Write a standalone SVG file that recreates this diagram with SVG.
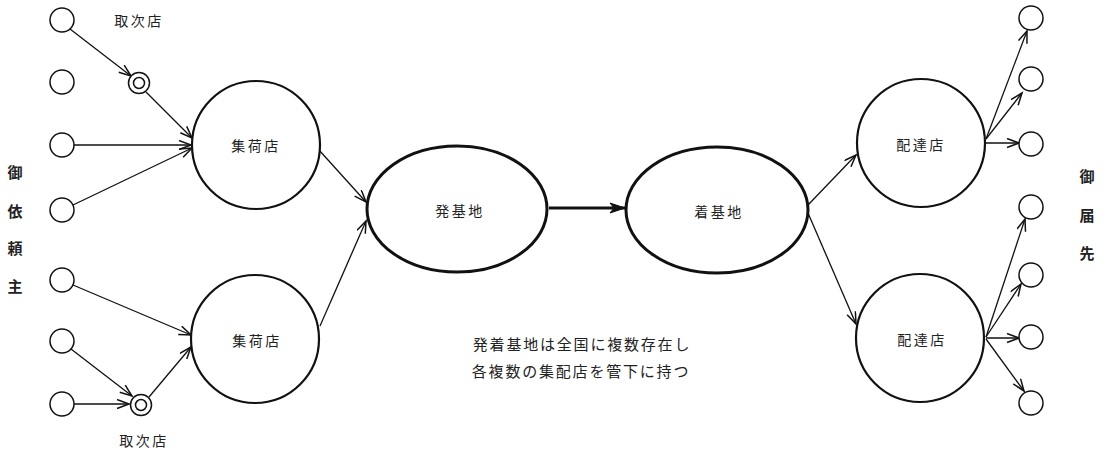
<svg xmlns="http://www.w3.org/2000/svg" width="1109" height="452" viewBox="0 0 1109 452">
<style>
text{font-family:"Noto Sans CJK JP","Noto Sans CJK SC",sans-serif;fill:#222;text-anchor:middle;dominant-baseline:central}
.lbl{font-size:14px;letter-spacing:2.5px}
.note{font-size:15px;letter-spacing:1.8px}
.side{font-size:15px;font-weight:bold}
.sm{fill:#fff;stroke:#111;stroke-width:1.5}
.big{fill:#fff;stroke:#111;stroke-width:2.2}
.base{fill:#fff;stroke:#111;stroke-width:3}
.c{stroke:#111;stroke-width:1.3;fill:none;marker-end:url(#ah)}
</style>
<defs>
<marker id="ah" markerUnits="userSpaceOnUse" markerWidth="16" markerHeight="12" refX="13" refY="5" orient="auto">
<path d="M1,0.5 L13,5 L1,9.5" fill="none" stroke="#111" stroke-width="1.5"/>
</marker>
<marker id="ahb" markerUnits="userSpaceOnUse" markerWidth="18" markerHeight="14" refX="16" refY="6" orient="auto">
<path d="M1,1 L16,6 L1,11 L5,6 Z" fill="#111" stroke="#111" stroke-width="1"/>
</marker>
</defs>
<rect width="1109" height="452" fill="#fff"/>

<g id="connectors">
<line class="c" x1="70" y1="29" x2="131" y2="76"/>
<line class="c" x1="146" y1="92" x2="192" y2="138"/>
<line class="c" x1="74" y1="145" x2="191" y2="145"/>
<line class="c" x1="73" y1="205" x2="192" y2="148"/>
<line class="c" x1="73" y1="285" x2="191" y2="335"/>
<line class="c" x1="71" y1="349" x2="132" y2="396"/>
<line class="c" x1="74" y1="404" x2="129" y2="404"/>
<line class="c" x1="149" y1="397" x2="191" y2="347"/>
<line class="c" x1="319" y1="150" x2="366" y2="202"/>
<line class="c" x1="320" y1="326" x2="366" y2="221"/>
<line x1="549" y1="208" x2="625" y2="208" stroke="#111" stroke-width="3" marker-end="url(#ahb)"/>
<line class="c" x1="808" y1="205" x2="856" y2="155"/>
<line class="c" x1="808" y1="213" x2="856" y2="324"/>
<line class="c" x1="986" y1="139" x2="1027" y2="31"/>
<line class="c" x1="986" y1="139" x2="1022" y2="93"/>
<line class="c" x1="985" y1="143" x2="1019" y2="143"/>
<line class="c" x1="986" y1="337" x2="1025" y2="219"/>
<line class="c" x1="986" y1="337" x2="1021" y2="284"/>
<line class="c" x1="986" y1="338" x2="1019" y2="338"/>
<line class="c" x1="986" y1="339" x2="1024" y2="391"/>
</g>

<g id="senders">
<circle class="sm" cx="62" cy="20" r="12"/>
<circle class="sm" cx="62" cy="82" r="12"/>
<circle class="sm" cx="62" cy="145" r="12"/>
<circle class="sm" cx="62" cy="210" r="12"/>
<circle class="sm" cx="62" cy="280" r="12"/>
<circle class="sm" cx="62" cy="341" r="12"/>
<circle class="sm" cx="62" cy="404" r="12"/>
</g>

<g id="relay-top">
<circle class="sm" cx="139" cy="83" r="10.5"/>
<circle class="sm" cx="139" cy="83" r="5.5"/>
<text class="lbl" x="139" y="20">取次店</text>
</g>
<g id="relay-bottom">
<circle class="sm" cx="141" cy="405" r="10.5"/>
<circle class="sm" cx="141" cy="405" r="5.5"/>
<text class="lbl" x="144" y="440">取次店</text>
</g>

<g id="collect-top">
<circle class="big" cx="256" cy="145" r="64"/>
<text class="lbl" x="256" y="145">集荷店</text>
</g>
<g id="collect-bottom">
<circle class="big" cx="255" cy="339" r="64"/>
<text class="lbl" x="257" y="340">集荷店</text>
</g>

<g id="origin-base">
<ellipse class="base" cx="457" cy="209" rx="90" ry="63"/>
<text class="lbl" x="460" y="210">発基地</text>
</g>
<g id="dest-base">
<ellipse class="base" cx="717" cy="210" rx="91" ry="63"/>
<text class="lbl" x="719" y="211">着基地</text>
</g>

<g id="deliver-top">
<circle class="big" cx="921" cy="143" r="64"/>
<text class="lbl" x="921" y="144">配達店</text>
</g>
<g id="deliver-bottom">
<circle class="big" cx="920" cy="338" r="64"/>
<text class="lbl" x="922" y="339">配達店</text>
</g>

<g id="receivers">
<circle class="sm" cx="1031" cy="18" r="12"/>
<circle class="sm" cx="1031" cy="79" r="12"/>
<circle class="sm" cx="1031" cy="144" r="12"/>
<circle class="sm" cx="1031" cy="207" r="12"/>
<circle class="sm" cx="1031" cy="275" r="12"/>
<circle class="sm" cx="1031" cy="337" r="12"/>
<circle class="sm" cx="1031" cy="403" r="12"/>
</g>

<g id="label-sender">
<text class="side" x="15" y="171">御</text>
<text class="side" x="15" y="210">依</text>
<text class="side" x="15" y="247">頼</text>
<text class="side" x="15" y="285">主</text>
</g>
<g id="label-receiver">
<text class="side" x="1087" y="175">御</text>
<text class="side" x="1087" y="214">届</text>
<text class="side" x="1087" y="252">先</text>
</g>

<g id="note">
<text class="note" x="582" y="343">発着基地は全国に複数存在し</text>
<text class="note" x="581" y="370">各複数の集配店を管下に持つ</text>
</g>
</svg>
